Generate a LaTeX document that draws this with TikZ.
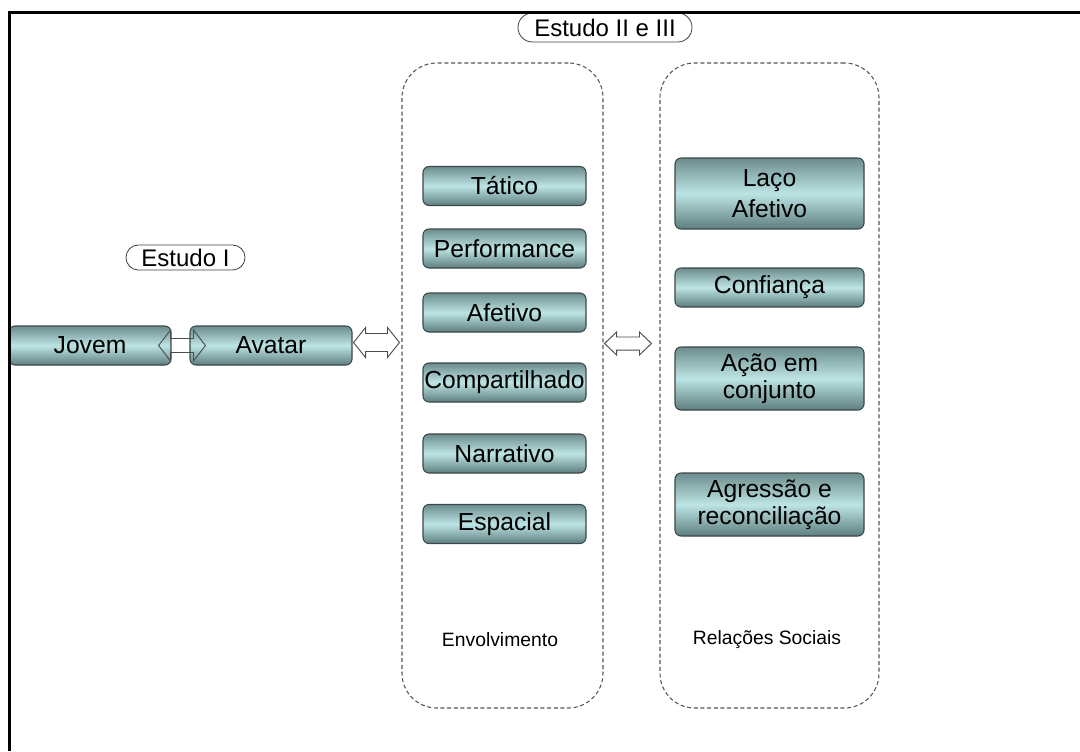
\documentclass[tikz,border=0pt]{standalone}
\usepackage{fontspec}
\setmainfont{Liberation Sans}
\usetikzlibrary{calc}
\definecolor{tealtop}{HTML}{6C8C8D}
\definecolor{teallight}{HTML}{BDE4E4}
\definecolor{tealbot}{HTML}{5E7E7F}
\definecolor{boxedge}{HTML}{3C4848}
\definecolor{dashgrey}{HTML}{555555}
\newcommand\harrow[6]{\draw[#1] let \p1=(#2), \p2=(#3) in
  (\x1,\y1) -- (\x1+#6,\y1+#4) -- (\x1+#6,\y1+#5) -- (\x2-#6,\y1+#5) -- (\x2-#6,\y1+#4) --
  (\x2,\y1) -- (\x2-#6,\y1-#4) -- (\x2-#6,\y1-#5) -- (\x1+#6,\y1-#5) -- (\x1+#6,\y1-#4) -- cycle;}
\begin{document}
\begin{tikzpicture}[x=0.75pt,y=-0.75pt,
  box/.style={draw=boxedge, line width=0.8pt, rounded corners=4.5pt,
    top color=tealtop, bottom color=tealbot, middle color=teallight,
    inner sep=0pt, align=center, font=\fontsize{18.5}{20.5}\selectfont, text=black},
  lbox/.style={box, minimum width=122.25pt, minimum height=29.25pt},
  rbox/.style={box, minimum width=141.75pt},
  capsule/.style={draw=black!75, line width=0.6pt, fill=white, inner sep=0pt,
    font=\fontsize{18}{20}\selectfont},
  container/.style={draw=dashgrey, line width=0.8pt, dash pattern=on 3pt off 2pt,
    rounded corners=26pt, inner sep=0pt},
  caption/.style={font=\fontsize{14.5}{16}\selectfont},
  hollow/.style={draw=black!70, line width=0.7pt, line join=miter}]
\useasboundingbox (0,0) rectangle (1080,751);

% containers
\node[container, minimum width=150.75pt, minimum height=483.75pt] (env) at (502.5,385.5) {};
\node[container, minimum width=164.25pt, minimum height=483.75pt] (rel) at (769.5,385.5) {};
\node[caption] (envlab) at (500,640) {Envolvimento};
\node[caption] (rellab) at (767,640) {Relações Sociais};

% capsules
\node[capsule, rounded corners=10.8pt, minimum width=130.5pt, minimum height=21.75pt] (est2) at (605,27.5) {Estudo II e III};
\node[capsule, rounded corners=9.3pt, minimum width=89.25pt, minimum height=18.75pt] (est1) at (185.5,257.5) {Estudo I};

% left boxes
\node[box, minimum width=121.5pt, minimum height=29.25pt] (jovem) at (90,345.5) {Jovem};
\node[box, minimum width=121.5pt, minimum height=29.25pt] (avatar) at (271,345.5) {Avatar};

% Envolvimento
\node[lbox] (tatico) at (504.5,186) {Tático};
\node[lbox] (perf) at (504.5,248.5) {Performance};
\node[lbox] (afet) at (504.5,312.5) {Afetivo};
\node[lbox] (comp) at (504.5,382.5) {Compartilhado};
\node[lbox] (narr) at (504.5,453.5) {Narrativo};
\node[lbox] (espa) at (504.5,524) {Espacial};

% Relações Sociais
\node[rbox, minimum height=53.25pt, font=\fontsize{18.5}{23.5}\selectfont] (laco) at (769.5,193.5) {Laço\\Afetivo};
\node[rbox, minimum height=29.25pt] (conf) at (769.5,287.5) {Confiança};
\node[rbox, minimum height=47.25pt] (acao) at (769.5,378.5) {Ação em\\conjunto};
\node[rbox, minimum height=47.25pt] (agre) at (769.5,504.5) {Agressão e\\reconciliação};

% hollow double arrows
\harrow{hollow}{$(jovem.east)+(-13,0)$}{$(avatar.west)+(16,0)$}{11.6pt}{5.25pt}{9pt}
\harrow{hollow, fill=white}{$(avatar.east)+(1,-3)$}{$(env.west)+(-2,-43.5)$}{11.25pt}{6.75pt}{9pt}
\harrow{hollow, fill=white}{$(env.east)+(1,-42)$}{$(rel.west)+(-8,-42)$}{8.6pt}{4.9pt}{9pt}

% frame
\draw[line width=2.25pt, line join=miter] (9,751) -- (9,12) -- (1080,12);
\end{tikzpicture}
\end{document}
